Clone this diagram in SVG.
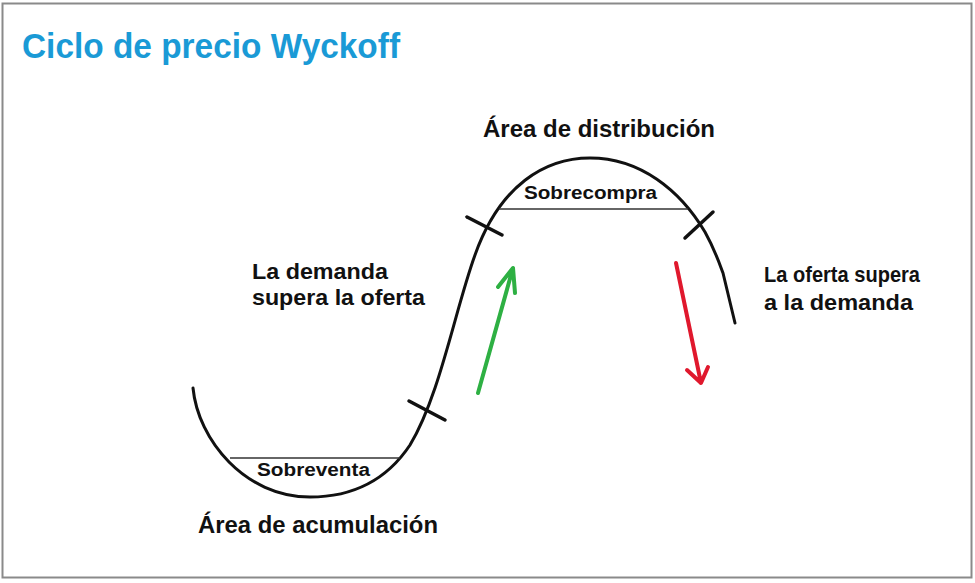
<svg xmlns="http://www.w3.org/2000/svg" width="975" height="583" viewBox="0 0 975 583">
<style>
.t{font-family:"Liberation Sans",Arial,sans-serif;font-weight:bold;fill:#111}
.curve{fill:none;stroke:#111;stroke-width:3;stroke-linecap:round;stroke-linejoin:round}
.tick{stroke:#111;stroke-width:3.5;stroke-linecap:round}
.zone{stroke:#333;stroke-width:1.5}
.arr{fill:none;stroke-width:4;stroke-linecap:round;stroke-linejoin:round}
</style>
<rect x="0" y="0" width="975" height="583" fill="#fff"/>
<rect x="2.5" y="3.5" width="969" height="574" fill="none" stroke="#8a8a8a" stroke-width="2"/>
<text id="title" x="22" y="58" font-family="Liberation Sans,Arial,sans-serif" font-weight="bold" font-size="35" fill="#1a9ad6" textLength="378" lengthAdjust="spacingAndGlyphs">Ciclo de precio Wyckoff</text>
<g id="connectors">
<path class="curve" d="M193,388 C198,440 245,497 310,497 C360,497 390,475 410,445 C440,395 455,310 475,255 C500,185 545,158 590,158 C640,158 680,190 705,232 C715,250 720,265 723,273 L735,323"/>
<line class="zone" x1="230" y1="458" x2="400" y2="458"/>
<line class="zone" x1="499" y1="209" x2="688" y2="209"/>
<line class="tick" x1="409" y1="401" x2="445" y2="420"/>
<line class="tick" x1="467" y1="217" x2="502" y2="235"/>
<line class="tick" x1="685" y1="238" x2="713" y2="212"/>
<path class="arr" stroke="#2eb043" d="M478,393 L513,268 M498,287 L513,268 L515,293"/>
<path class="arr" stroke="#e0182d" d="M676,263 L701,383 M687,370 L701,383 L708,367"/>
</g>
<g id="distribucion"><text class="t" x="483" y="137" font-size="23" textLength="232" lengthAdjust="spacingAndGlyphs">Área de distribución</text></g>
<g id="sobrecompra"><text class="t" x="524" y="199" font-size="18" textLength="133" lengthAdjust="spacingAndGlyphs">Sobrecompra</text></g>
<g id="demanda"><text class="t" font-size="22"><tspan x="252" y="279" textLength="136" lengthAdjust="spacingAndGlyphs">La demanda</tspan><tspan x="252" y="305" textLength="173" lengthAdjust="spacingAndGlyphs">supera la oferta</tspan></text></g>
<g id="oferta"><text class="t" font-size="22"><tspan x="764" y="282" textLength="156" lengthAdjust="spacingAndGlyphs">La oferta supera</tspan><tspan x="764" y="310" textLength="149" lengthAdjust="spacingAndGlyphs">a la demanda</tspan></text></g>
<g id="sobreventa"><text class="t" x="257" y="476" font-size="18" textLength="113" lengthAdjust="spacingAndGlyphs">Sobreventa</text></g>
<g id="acumulacion"><text class="t" x="198" y="533" font-size="23" textLength="240" lengthAdjust="spacingAndGlyphs">Área de acumulación</text></g>
</svg>
